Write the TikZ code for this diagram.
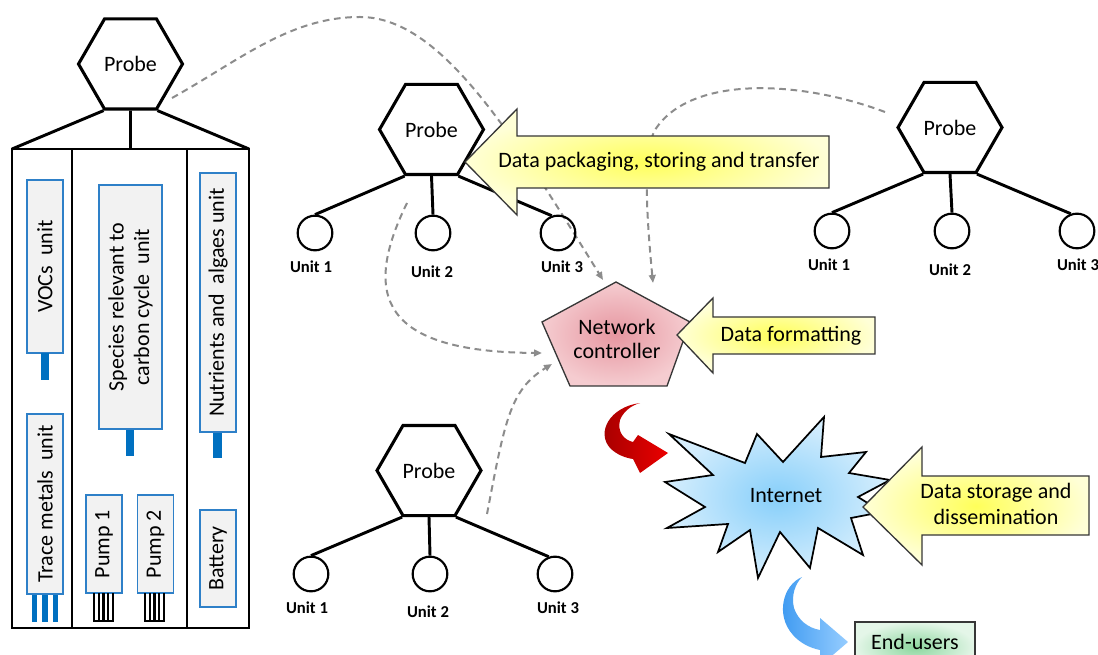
\documentclass[tikz,border=0pt]{standalone}
\usepackage{fontspec}
\setmainfont{Carlito}
\usetikzlibrary{shapes.geometric,arrows.meta}
\definecolor{dashgray}{RGB}{140,140,140}
\definecolor{compblue}{RGB}{46,128,200}
\definecolor{barblue}{RGB}{0,112,192}
\definecolor{compfill}{RGB}{242,242,242}
\definecolor{yelin}{RGB}{255,255,90}
\definecolor{yelout}{RGB}{255,255,215}
\definecolor{pinkin}{RGB}{230,150,160}
\definecolor{pinkout}{RGB}{245,204,208}
\definecolor{bluein}{RGB}{135,207,250}
\definecolor{blueout}{RGB}{214,238,253}
\definecolor{greenin}{RGB}{140,214,158}
\definecolor{greenout}{RGB}{228,246,232}
\definecolor{redA}{RGB}{160,0,0}
\definecolor{redB}{RGB}{235,0,0}
\definecolor{skyA}{RGB}{55,150,240}
\definecolor{skyB}{RGB}{150,205,255}
\definecolor{edgec}{RGB}{55,55,55}
\tikzset{
  probe/.style={regular polygon, regular polygon sides=6, minimum size=78pt, inner sep=0pt, draw, line width=2.3pt, font=\fontsize{16.5}{19}\selectfont},
  unitc/.style={circle, draw, line width=1.6pt, minimum size=26pt, inner sep=0pt},
  unitlbl/.style={font=\bfseries\fontsize{12.5}{14}\selectfont, inner sep=0pt},
  wire/.style={line width=2.2pt},
  comp/.style={draw=compblue, fill=compfill, line width=1.2pt, rotate=90, inner sep=0pt, font=\fontsize{16.5}{19}\selectfont, align=center},
  bar/.style={fill=barblue, draw=none},
  comb/.style={line width=1.8pt},
  dashlink/.style={draw=dashgray, line width=1.5pt, dash pattern=on 5pt off 3.5pt, -{Triangle[length=6pt,width=5pt]}},
  lbl/.style={font=\fontsize{16.5}{19}\selectfont, inner sep=0pt, align=center},
  yelarrow/.style={inner color=yelin, outer color=yelout, draw=edgec, line width=1pt, line join=miter},
}
\begin{document}
\begin{tikzpicture}[x=0.75pt,y=-0.75pt]
\clip (0,0) rectangle (1098,655);
\fill[white] (0,0) rectangle (1098,655);

% ---------- dashed links (behind everything) ----------
\coordinate (d1s) at (172,98);  \coordinate (d1e) at (603,280);
\coordinate (d2s) at (885,112); \coordinate (d2e) at (653,283);
\coordinate (d3s) at (407,203); \coordinate (d3e) at (542,353);
\coordinate (d4s) at (487,514); \coordinate (d4e) at (552,364);
\draw[dashlink] (d1s) .. controls (240,60) and (290,17) .. (360,17) .. controls (440,17) and (510,130) .. (d1e);
\draw[dashlink] (d2s) .. controls (800,80) and (690,75) .. (655,130) .. controls (644,150) and (645,200) .. (d2e);
\draw[dashlink] (d3s) .. controls (362,295) and (380,352) .. (d3e);
\draw[dashlink] (d4s) .. controls (505,420) and (510,390) .. (d4e);

% ---------- big probe with housing ----------
\node[probe] (p1) at (130.5,64) {Probe};
\coordinate (bl) at (12,149); \coordinate (bm) at (130.5,149); \coordinate (br) at (249,149);
\draw[wire] (p1.240) -- (bl);
\draw[wire] (p1.south) -- (bm);
\draw[wire] (p1.300) -- (br);
\draw[line width=2pt] (bl) rectangle (249,628);
\draw[wire] (72,149) -- (72,628);
\draw[wire] (187,149) -- (187,628);

\node[comp, minimum width=129.75pt, minimum height=27pt] (voc) at (45,266.5) {VOCs~ unit};
\node[comp, minimum width=135pt, minimum height=27pt] (trace) at (45,504) {Trace metals~ unit};
\node[comp, minimum width=183pt, minimum height=47.25pt] (spec) at (130.5,307) {Species relevant to\\carbon cycle~ unit};
\node[comp, minimum width=73.5pt, minimum height=27pt] (pump1) at (104,544) {Pump 1};
\node[comp, minimum width=73.5pt, minimum height=27pt] (pump2) at (155.5,544) {Pump 2};
\node[comp, minimum width=194.25pt, minimum height=27pt] (nutr) at (218,302.5) {Nutrients and~ algaes unit};
\node[comp, minimum width=72.75pt, minimum height=27pt] (batt) at (218,558.5) {Battery};

\fill[bar] (41,353.5) rectangle (49,380);
\fill[bar] (31.5,594.5) rectangle (37,622);
\fill[bar] (42,594.5) rectangle (48,622);
\fill[bar] (52.5,594.5) rectangle (58,622);
\fill[bar] (126,429.5) rectangle (134,456);
\fill[bar] (213,432.5) rectangle (222,458);

\draw[comb] (94,593) -- (94,621) -- (113,621) -- (113,593);
\draw[comb] (99,593) -- (99,621) (103.5,593) -- (103.5,621) (108,593) -- (108,621);
\draw[comb] (145,593) -- (145,621) -- (164,621) -- (164,593);
\draw[comb] (150,593) -- (150,621) (154.5,593) -- (154.5,621) (159,593) -- (159,621);

% ---------- probe 2 ----------
\node[probe] (p2) at (431.5,129.5) {Probe};
\node[unitc] (p2u1) at (315,233) {};
\node[unitc] (p2u2) at (433,233) {};
\node[unitc] (p2u3) at (558,233) {};
\draw[wire] (p2.240) -- (p2u1.north);
\draw[wire] (p2.south) -- (p2u2.north);
\draw[wire] (p2.300) -- (p2u3.110);
\node[unitlbl] (p2l1) at (311,267) {Unit 1};
\node[unitlbl] (p2l2) at (432,272) {Unit 2};
\node[unitlbl] (p2l3) at (562,267) {Unit 3};

% ---------- probe 3 ----------
\node[probe] (p3) at (950,127.5) {Probe};
\node[unitc] (p3u1) at (832,231) {};
\node[unitc] (p3u2) at (952,231) {};
\node[unitc] (p3u3) at (1077,231) {};
\draw[wire] (p3.240) -- (p3u1.north);
\draw[wire] (p3.south) -- (p3u2.north);
\draw[wire] (p3.300) -- (p3u3.110);
\node[unitlbl] (p3l1) at (829,265) {Unit 1};
\node[unitlbl] (p3l2) at (950,270) {Unit 2};
\node[unitlbl] (p3l3) at (1078,265) {Unit 3};

% ---------- probe 4 ----------
\node[probe] (p4) at (429,470.5) {Probe};
\node[unitc] (p4u1) at (311,574) {};
\node[unitc] (p4u2) at (430,574) {};
\node[unitc] (p4u3) at (555,574) {};
\draw[wire] (p4.240) -- (p4u1.north);
\draw[wire] (p4.south) -- (p4u2.north);
\draw[wire] (p4.300) -- (p4u3.110);
\node[unitlbl] (p4l1) at (307,608) {Unit 1};
\node[unitlbl] (p4l2) at (428,612) {Unit 2};
\node[unitlbl] (p4l3) at (558,608) {Unit 3};

% ---------- network controller ----------
\shade[inner color=pinkin, outer color=pinkout, draw=edgec, line width=1pt, line join=miter]
  (616,282) -- (690,322) -- (667,386) -- (570,386) -- (542,322) -- cycle;
\node[lbl, font=\fontsize{16.5}{18}\selectfont] (nc) at (617,339) {Network\\controller};

% ---------- internet ----------
\shade[inner color=bluein, outer color=blueout, draw=black, line width=1.3pt, line join=miter]
  (669,434) -- (745,463) -- (757,434) -- (783,462) -- (824,417) -- (821,457) -- (866,452) -- (849,473)
  -- (890,480) -- (858,497) -- (882,512) -- (851,518) -- (863,555) -- (818,528) -- (810,568) -- (780,532)
  -- (758,578) -- (750,530) -- (718,552) -- (728,524) -- (667,528) -- (705,507) -- (665,482) -- (713,475) -- cycle;
\node[lbl] (inet) at (786,496) {Internet};

% ---------- yellow block arrows ----------
\shade[yelarrow] (465,162) -- (517,109) -- (517,136) -- (829,136) -- (829,188) -- (517,188) -- (517,215) -- cycle;
\node[lbl] (ta) at (659,162) {Data packaging, storing and transfer};
\shade[yelarrow] (677,335) -- (713,298) -- (713,317) -- (875,317) -- (875,354) -- (713,354) -- (713,373) -- cycle;
\node[lbl] (tb) at (791,336) {Data formatting};
\shade[yelarrow] (863,507) -- (922,447) -- (922,476) -- (1089,476) -- (1089,535) -- (922,535) -- (922,565) -- cycle;
\node[lbl, font=\fontsize{16.5}{19.5}\selectfont] (tc) at (996,504) {Data storage and\\dissemination};

% ---------- curved arrows ----------
\shade[left color=redA, right color=redB]
  (640,403) .. controls (610,407) and (596,432) .. (610,448) .. controls (617,455) and (626,458) .. (633,459)
  -- (640,473) -- (668,453) -- (638,435) -- (633,442) .. controls (624,440) and (617,432) .. (620,420)
  .. controls (624,410) and (633,405) .. (640,403) -- cycle;
\shade[left color=skyA, right color=skyB]
  (802,577) .. controls (783,585) and (775,615) .. (793,635) .. controls (800,643) and (810,648) .. (820,650)
  -- (820,666) -- (848,642) -- (820,618) -- (820,630) .. controls (808,628) and (798,620) .. (794,608)
  .. controls (791,596) and (795,584) .. (802,577) -- cycle;

% ---------- end-users ----------
\shade[inner color=greenin, outer color=greenout, draw=edgec, line width=1pt] (855,622) rectangle (975,672);
\node[lbl] (eu) at (915,642) {End-users};
\end{tikzpicture}
\end{document}
